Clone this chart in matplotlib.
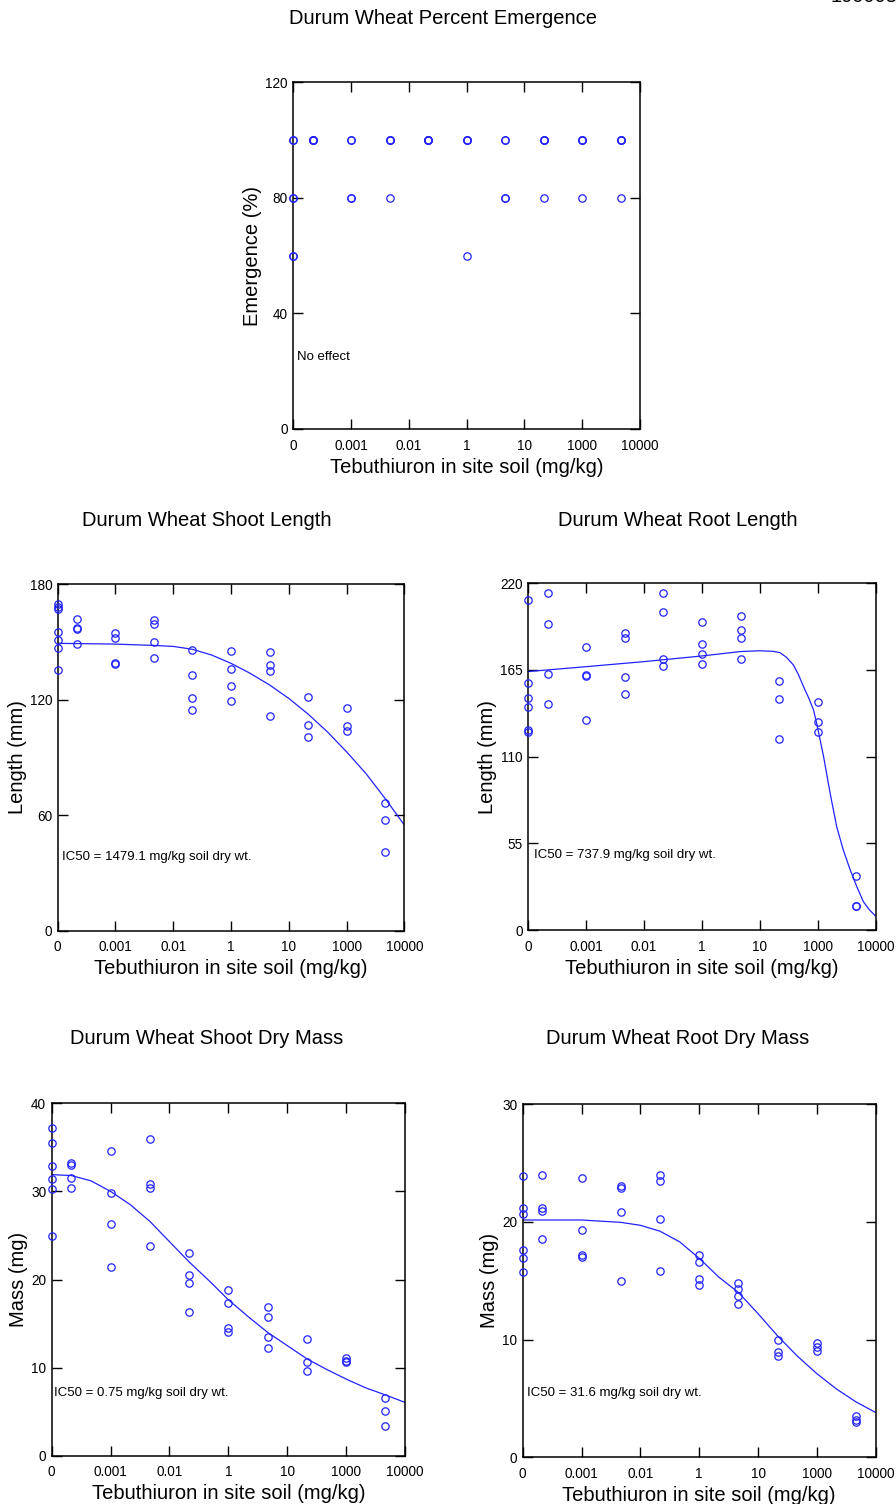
import matplotlib
matplotlib.use("Agg")
import matplotlib.pyplot as plt
import numpy as np

plt.rcParams['font.family'] = ['Liberation Sans', 'DejaVu Sans']

# dose levels (mg/kg); the control (0) sits on the left edge of the axis
doses = [0, 1e-4, 1e-3, 1e-2, 1e-1, 1, 10, 100, 1000, 10000]
CONTROL_AT = 10 ** -4.5

tick_pos = [10 ** -4.5, 10 ** -3, 10 ** -1.5, 1, 10 ** 1.5, 1000, 10 ** 4.5]
tick_labels = ["0", "0.001", "0.01", "1", "10", "1000", "10000"]

# replicate values per dose
emergence = [
    [100, 100, 80, 80, 60, 60],
    [100, 100, 100, 100],
    [100, 100, 80, 80],
    [100, 100, 100, 80],
    [100, 100, 100, 100],
    [100, 100, 100, 60],
    [100, 100, 80, 80],
    [100, 100, 100, 80],
    [100, 100, 100, 80],
    [100, 100, 100, 80],
]
shoot_length = [
    [169.4, 168.2, 167.2, 155.1, 151.1, 146.9, 135.2],
    [161.8, 157.3, 156.5, 148.7],
    [154.6, 152.0, 139.1, 138.5],
    [161.5, 159.0, 149.7, 141.4],
    [145.7, 132.9, 121.0, 114.4],
    [145.0, 136.0, 127.2, 119.1],
    [144.7, 138.1, 135.0, 111.6],
    [121.1, 106.6, 100.7],
    [115.8, 106.1, 103.7],
    [66.1, 57.6, 40.8],
]
root_length = [
    [209.4, 156.8, 147.5, 141.5, 126.7, 125.9],
    [213.9, 194.2, 162.5, 143.4],
    [179.4, 161.6, 161.2, 133.1],
    [188.3, 185.5, 160.8, 150.0],
    [214.1, 201.8, 171.8, 167.3],
    [195.5, 181.5, 175.2, 168.8],
    [199.5, 190.2, 185.3, 171.8],
    [157.8, 146.4, 121.4],
    [144.5, 132.2, 125.9],
    [34.1, 15.4, 15.2],
]
shoot_mass = [
    [37.2, 35.5, 32.9, 31.4, 30.3, 24.9],
    [33.2, 33.0, 31.5, 30.4],
    [34.6, 29.8, 26.3, 21.4],
    [36.0, 30.8, 30.4, 23.8],
    [23.0, 20.5, 19.6, 16.3],
    [18.8, 17.3, 14.5, 14.0],
    [16.9, 15.7, 13.5, 12.2],
    [13.2, 10.6, 9.6],
    [11.05, 10.7, 10.6],
    [6.5, 5.1, 3.4],
]
root_mass = [
    [23.9, 21.2, 20.7, 17.6, 16.9, 15.7],
    [24.0, 21.2, 20.9, 18.5],
    [23.7, 19.3, 17.2, 17.0],
    [23.0, 22.9, 20.8, 15.0],
    [24.0, 23.5, 20.2, 15.8],
    [17.2, 16.6, 15.1, 14.6],
    [14.8, 14.3, 13.7, 13.0],
    [10.0, 8.9, 8.6],
    [9.7, 9.4, 9.0],
    [3.5, 3.2, 3.0],
]

# fitted curves (log10 dose, response)
shoot_len_fit_logx = [-4.5, -3, -2, -1.5, -1, -0.5, 0, 0.5, 1, 1.5, 2, 2.5, 3, 3.5, 4, 4.5]
shoot_len_fit_y = [149.2, 148.8, 148.1, 147.6, 146.1, 143.1, 138.8, 133.6, 127.6, 120.6,
                   112.5, 103.3, 92.9, 81.7, 68.7, 54.9]
root_len_fit_logx = [-4.5, -3, -1.5, 0, 1, 1.5, 1.85, 2.02, 2.19, 2.37, 2.5, 2.63, 2.76,
                     2.89, 2.98, 3.15, 3.32, 3.49, 3.66, 3.84, 4.01, 4.18, 4.33, 4.485]
root_len_fit_y = [164.0, 167.1, 170.3, 173.9, 176.7, 177.2, 176.8, 176.0, 173.0, 168.1,
                  162.0, 154.4, 147.5, 139.6, 130.1, 110.0, 86.7, 65.5, 50.8, 38.1,
                  27.5, 18.0, 13.0, 9.1]
shoot_mass_fit_logx = [-4.5, -4, -3.5, -3, -2.5, -2, -1.5, -1, -0.5, 0, 0.5, 1, 1.5, 2,
                       2.5, 3, 3.5, 4, 4.5]
shoot_mass_fit_y = [31.9, 31.8, 31.2, 30.0, 28.5, 26.6, 24.3, 22.0, 19.9, 17.7, 15.8, 14.0,
                    12.5, 11.0, 9.8, 8.7, 7.7, 6.9, 6.05]
root_mass_fit_logx = [-4.5, -3, -2, -1.5, -1, -0.5, 0, 0.5, 1, 1.5, 2, 2.5, 3, 3.5, 4, 4.5]
root_mass_fit_y = [20.15, 20.15, 19.95, 19.7, 19.2, 18.3, 16.9, 15.3, 14.0, 12.2, 10.3,
                   8.6, 7.1, 5.8, 4.7, 3.8]

BLUE = '#2222ff'
W, H = 896, 1504

fig = plt.figure(figsize=(W / 100, H / 100), dpi=100)


def px_axes(x0, y0, x1, y1):
    # axes box given in picture pixels (top-left origin)
    return fig.add_axes([x0 / W, (H - y1) / H, (x1 - x0) / W, (y1 - y0) / H])


def draw_panel(ax, values, yticks, ylabel, note, note_xy, fit=None):
    for d, reps in zip(doses, values):
        x = CONTROL_AT if d == 0 else d
        ax.plot([x] * len(reps), reps, 'o', ms=5.3, mfc='none', mec=BLUE,
                mew=0.9, clip_on=False, zorder=3)
    if fit is not None:
        fx, fy = fit
        ax.plot(10 ** np.array(fx), fy, '-', color=BLUE, lw=0.9)
    ax.set_xscale('log')
    ax.set_xlim(10 ** -4.5, 10 ** 4.5)
    ax.set_ylim(yticks[0], yticks[-1])
    ax.set_xticks(tick_pos)
    ax.set_xticklabels(tick_labels)
    ax.minorticks_off()
    ax.set_yticks(yticks)
    ax.tick_params(direction='in', length=7, width=1, labelsize=9.8,
                   top=True, right=True)
    ax.tick_params(axis='x', pad=7)
    ax.tick_params(axis='y', pad=4)
    for s in ax.spines.values():
        s.set_linewidth(1.1)
    ax.set_xlabel("Tebuthiuron in site soil (mg/kg)", fontsize=14.5, labelpad=3.5)
    ax.set_ylabel(ylabel, fontsize=14.5, labelpad=2)
    ax.text(note_xy[0], note_xy[1], note, transform=ax.transAxes,
            fontsize=9.5, va='center', ha='left')


ax1 = px_axes(293.3, 82.3, 640, 429)
draw_panel(ax1, emergence, [0, 40, 80, 120], "Emergence (%)", "No effect", (0.01, 0.2085))

ax2 = px_axes(57.7, 584, 404.3, 930.7)
draw_panel(ax2, shoot_length, [0, 60, 120, 180], "Length (mm)",
           "IC50 = 1479.1 mg/kg soil dry wt.", (0.0115, 0.213),
           (shoot_len_fit_logx, shoot_len_fit_y))

ax3 = px_axes(528.3, 583.3, 875.7, 930)
draw_panel(ax3, root_length, [0, 55, 110, 165, 220], "Length (mm)",
           "IC50 = 737.9 mg/kg soil dry wt.", (0.017, 0.216),
           (root_len_fit_logx, root_len_fit_y))

ax4 = px_axes(51.7, 1103.3, 405, 1455.7)
draw_panel(ax4, shoot_mass, [0, 10, 20, 30, 40], "Mass (mg)",
           "IC50 = 0.75 mg/kg soil dry wt.", (0.0074, 0.177),
           (shoot_mass_fit_logx, shoot_mass_fit_y))

ax5 = px_axes(522.7, 1104, 875.7, 1457.3)
draw_panel(ax5, root_mass, [0, 10, 20, 30], "Mass (mg)",
           "IC50 = 31.6 mg/kg soil dry wt.", (0.013, 0.183),
           (root_mass_fit_logx, root_mass_fit_y))

# panel titles, placed where they sit in the original page
titles = [
    ("Durum Wheat Percent Emergence", 443, 18),
    ("Durum Wheat Shoot Length", 207, 521),
    ("Durum Wheat Root Length", 677.5, 520),
    ("Durum Wheat Shoot Dry Mass", 206.5, 1038),
    ("Durum Wheat Root Dry Mass", 677.5, 1039),
]
for t, x, y in titles:
    fig.text(x / W, 1 - y / H, t, fontsize=14.5, ha='center', va='center')

# page number cut off at the top edge, as in the scanned page
fig.text(830 / W, 1 + 4 / H, "1000088", fontsize=14.5, ha='left', va='center')

fig.savefig("out.png", dpi=100)
